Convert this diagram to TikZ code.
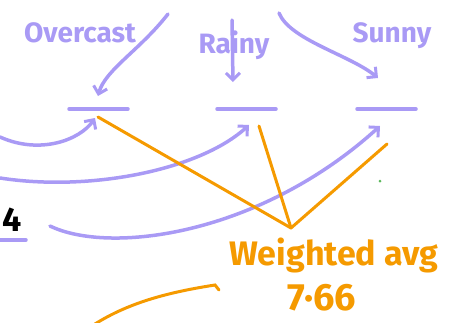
\documentclass[tikz,border=0pt]{standalone}
\usepackage{fontspec}
\setmainfont{Fira Sans}
\usepackage{xcolor}
\usetikzlibrary{arrows.meta}
\definecolor{lav}{HTML}{A99AF5}
\definecolor{amber}{HTML}{F59A00}
\definecolor{dotgreen}{HTML}{5CB85C}

\begin{document}
\begin{tikzpicture}[x=1pt,y=-1pt,
    pen/.style={lav,line width=3.5pt,line cap=round},
    penarrow/.style={pen,-{Straight Barb[length=7pt,width=14pt,line width=3pt]}},
    wt/.style={amber,line width=3pt,line cap=round},
    lbl/.style={lav,font=\fontsize{28}{30}\selectfont\bfseries},
    avglbl/.style={amber,font=\fontsize{34}{36}\selectfont\bfseries}]
    \useasboundingbox (0,0) rectangle (458,322);
    % Kategorien
    \node[lbl] (overcast) at (80,33) {Overcast};
    \node[lbl] (rainy) at (234,45) {Rainy};
    \node[lbl] (sunny) at (392,36) {Sunny};
    % Balken
    \foreach \name/\x in {ov/98, ra/246, su/386} {
        \coordinate (\name) at (\x,109);
        \draw[pen] (\x-29,109) -- (\x+30,109);
    }
    % Pfeile von oben
    \draw[penarrow] (168,14) .. controls (140,50) and (105,70) .. ([yshift=13pt]ov);
    \draw[penarrow] (232,20) -- ([xshift=-13pt,yshift=27pt]ra);
    \draw[penarrow] (279,13) .. controls (290,40) and (350,55) .. ([xshift=-8pt,yshift=31pt]su);
    % Pfeile von links
    \draw[penarrow] (0,137) .. controls (40,155) and (80,140) .. ([xshift=-3pt,yshift=-9pt]ov);
    \draw[penarrow] (0,178) .. controls (90,192) and (200,170) .. ([xshift=3pt,yshift=-16pt]ra);
    \draw[penarrow] (50,226) .. controls (110,255) and (260,235) .. ([xshift=-6pt,yshift=-17pt]su);
    % Wert links
    \node[font=\fontsize{34}{36}\selectfont\bfseries] (four) at (12,220) {4};
    \draw[pen] (0,240) -- (26,240);
    % gewichteter Durchschnitt
    \coordinate (avg) at (291,228);
    \draw[wt] ([yshift=-8pt]ov) -- (avg);
    \draw[wt] ([xshift=13pt,yshift=-17pt]ra) -- (avg);
    \draw[wt] (avg) -- ([xshift=1pt,yshift=-35pt]su);
    \node[avglbl] (wavg) at (334,255) {Weighted avg};
    \node[avglbl,font=\fontsize{38}{40}\selectfont\bfseries] (val) at (322,298) {7·66};
    \fill[dotgreen] (380,181) circle (1.5);
    % Kurve unten
    \draw[wt] (95,324) .. controls (130,302) and (170,292) .. (215,285) -- (219,290);
\end{tikzpicture}
\end{document}
